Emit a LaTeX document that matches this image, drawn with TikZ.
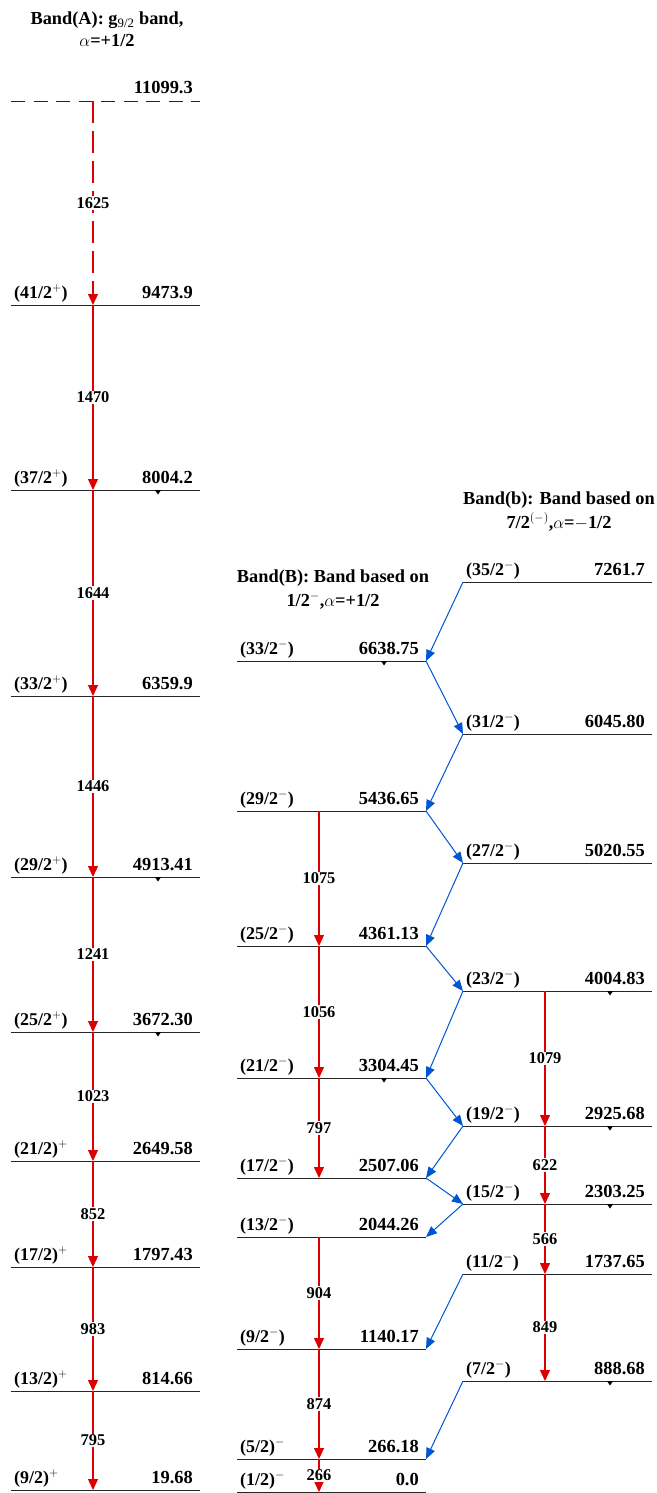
\documentclass[tikz,border=0pt]{standalone}
\usepackage{fontspec}
\setmainfont{Liberation Serif}
\usetikzlibrary{arrows.meta}
\definecolor{tred}{RGB}{220,0,0}
\definecolor{tblue}{RGB}{0,85,210}
\newcommand\mklevel[5]{%
  \coordinate (#1L) at (#2,#3);
  \coordinate (#1R) at ({#2+189},#3);
  \coordinate (#1T) at ({#2+82},#3);
  \coordinate (#1M) at ({#2+147},#3);
  \draw[lvl] (#1L) -- (#1R);
  \node[spinlab] (#1s) at ({#2+3},{#3-7}) {#4};
  \node[enlab] (#1e) at ({#2+182},{#3-7}) {#5};
}
\newcommand\lvmark[1]{\fill[black] ([xshift=-3bp]#1M) -- ([xshift=3bp]#1M) -- ([yshift=-4.5bp]#1M) -- cycle;}
\begin{document}
\begin{tikzpicture}[x=1bp,y=-1bp,
 lvl/.style={line width=0.9bp, draw=black!85},
 spinlab/.style={font=\fontsize{18}{21}\selectfont\bfseries, text=black, inner sep=0pt, anchor=base west},
 enlab/.style={font=\fontsize{18.5}{21}\selectfont\bfseries, text=black, inner sep=0pt, anchor=base east},
 tlab/.style={font=\fontsize{16.5}{18}\selectfont\bfseries, text=black, fill=white, inner sep=1.2pt},
 redarr/.style={draw=tred, line width=1.2bp, -{Triangle[width=10bp,length=11bp,color=tred]}},
 bluearr/.style={draw=tblue, line width=1bp, -{Triangle[width=9bp,length=11bp,color=tblue]}},
 titlelab/.style={font=\fontsize{18.4}{22}\selectfont\bfseries, text=black, inner sep=0pt, anchor=base}]
\useasboundingbox (0,0) rectangle (657,1493);

% titles
\node[titlelab] (tA1) at (107,25) {Band(A): g\textsubscript{\normalfont 9/2} band,};
\node[titlelab] (tA2) at (107,47) {$\alpha$=+1/2};
\node[titlelab] (tB1) at (333,582) {Band(B): Band based on};
\node[titlelab] (tB2) at (333,606) {1/2$^{-}$,$\alpha$=+1/2};
\node[titlelab] (tb1) at (559,504) {Band(b): Band based on};
\node[titlelab] (tb2) at (559,528) {7/2$^{(-)}$,$\alpha$=$-$1/2};

% Band A
\coordinate (AtopL) at (11,101);
\coordinate (AtopR) at (200,101);
\coordinate (AtopT) at (93,101);
\draw[lvl, dash pattern=on 14bp off 8.5bp] (AtopL) -- (AtopR);
\node[enlab] (Atope) at (193,94) {11099.3};
\mklevel{Aa}{11}{305}{(41/2$^{+}$)}{9473.9}
\mklevel{Ab}{11}{490}{(37/2$^{+}$)}{8004.2}
\mklevel{Ac}{11}{696}{(33/2$^{+}$)}{6359.9}
\mklevel{Ad}{11}{877}{(29/2$^{+}$)}{4913.41}
\mklevel{Ae}{11}{1032}{(25/2$^{+}$)}{3672.30}
\mklevel{Af}{11}{1161}{(21/2)$^{+}$}{2649.58}
\mklevel{Ag}{11}{1267}{(17/2)$^{+}$}{1797.43}
\mklevel{Ah}{11}{1391}{(13/2)$^{+}$}{814.66}
\mklevel{Ai}{11}{1490}{(9/2)$^{+}$}{19.68}
\lvmark{Ab}\lvmark{Ad}\lvmark{Ae}

% Band B
\mklevel{Ba}{237}{661}{(33/2$^{-}$)}{6638.75}
\mklevel{Bb}{237}{811}{(29/2$^{-}$)}{5436.65}
\mklevel{Bc}{237}{946}{(25/2$^{-}$)}{4361.13}
\mklevel{Bd}{237}{1078}{(21/2$^{-}$)}{3304.45}
\mklevel{Be}{237}{1178}{(17/2$^{-}$)}{2507.06}
\mklevel{Bf}{237}{1237}{(13/2$^{-}$)}{2044.26}
\mklevel{Bg}{237}{1349}{(9/2$^{-}$)}{1140.17}
\mklevel{Bh}{237}{1459}{(5/2)$^{-}$}{266.18}
\mklevel{Bi}{237}{1492}{(1/2)$^{-}$}{0.0}
\lvmark{Ba}\lvmark{Bd}

% Band b
\mklevel{ba}{463}{582}{(35/2$^{-}$)}{7261.7}
\mklevel{bb}{463}{734}{(31/2$^{-}$)}{6045.80}
\mklevel{bc}{463}{863}{(27/2$^{-}$)}{5020.55}
\mklevel{bd}{463}{991}{(23/2$^{-}$)}{4004.83}
\mklevel{be}{463}{1126}{(19/2$^{-}$)}{2925.68}
\mklevel{bf}{463}{1204}{(15/2$^{-}$)}{2303.25}
\mklevel{bg}{463}{1274}{(11/2$^{-}$)}{1737.65}
\mklevel{bh}{463}{1381}{(7/2$^{-}$)}{888.68}
\lvmark{bd}\lvmark{be}\lvmark{bf}\lvmark{bh}

% red transitions, band A
\draw[redarr, dash pattern=on 22bp off 8bp] (AtopT) -- node[tlab]{1625} (AaT);
\draw[redarr] (AaT) -- node[tlab]{1470} (AbT);
\draw[redarr] (AbT) -- node[tlab]{1644} (AcT);
\draw[redarr] (AcT) -- node[tlab]{1446} (AdT);
\draw[redarr] (AdT) -- node[tlab]{1241} (AeT);
\draw[redarr] (AeT) -- node[tlab]{1023} (AfT);
\draw[redarr] (AfT) -- node[tlab]{852} (AgT);
\draw[redarr] (AgT) -- node[tlab]{983} (AhT);
\draw[redarr] (AhT) -- node[tlab]{795} (AiT);

% red transitions, band B
\draw[redarr] (BbT) -- node[tlab]{1075} (BcT);
\draw[redarr] (BcT) -- node[tlab]{1056} (BdT);
\draw[redarr] (BdT) -- node[tlab]{797} (BeT);
\draw[redarr] (BfT) -- node[tlab]{904} (BgT);
\draw[redarr] (BgT) -- node[tlab]{874} (BhT);
\draw[redarr] (BhT) -- node[tlab]{266} (BiT);

% red transitions, band b
\draw[redarr] (bdT) -- node[tlab]{1079} (beT);
\draw[redarr] (beT) -- node[tlab]{622} (bfT);
\draw[redarr] (bfT) -- node[tlab]{566} (bgT);
\draw[redarr] (bgT) -- node[tlab]{849} (bhT);

% blue interband transitions
\draw[bluearr] (baL) -- (BaR);
\draw[bluearr] (BaR) -- (bbL);
\draw[bluearr] (bbL) -- (BbR);
\draw[bluearr] (BbR) -- (bcL);
\draw[bluearr] (bcL) -- (BcR);
\draw[bluearr] (BcR) -- (bdL);
\draw[bluearr] (bdL) -- (BdR);
\draw[bluearr] (BdR) -- (beL);
\draw[bluearr] (beL) -- (BeR);
\draw[bluearr] (BeR) -- (bfL);
\draw[bluearr] (bfL) -- (BfR);
\draw[bluearr] (bgL) -- (BgR);
\draw[bluearr] (bhL) -- (BhR);
\end{tikzpicture}
\end{document}
